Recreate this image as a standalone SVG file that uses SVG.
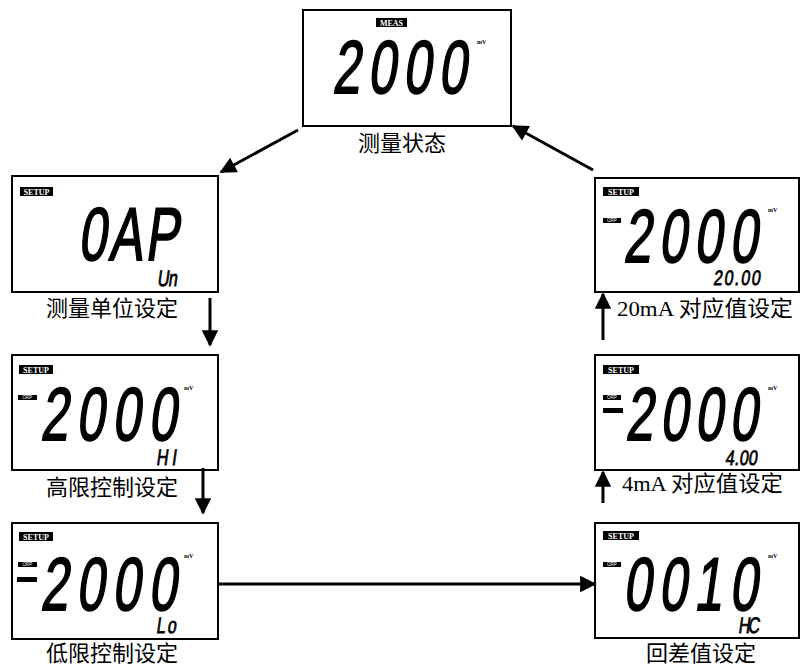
<svg xmlns="http://www.w3.org/2000/svg" width="800" height="666" viewBox="0 0 800 666">
<defs>
<style>
.box{fill:#fff;stroke:#000;stroke-width:2}
.tag{fill:#000}
.tagt{fill:#fff;font-family:"Liberation Serif",serif;font-weight:bold;font-size:8px}
.orpt{fill:#fff;font-family:"Liberation Sans",sans-serif;font-size:4.5px}
.lcd{fill:#000;stroke:#000;stroke-width:1.2;font-family:"Liberation Sans",sans-serif;font-size:50px}
.lcds{fill:#000;stroke:#000;stroke-width:0.6;font-family:"Liberation Sans",sans-serif;font-size:16px}
.mv{fill:#000;font-family:"Liberation Serif",serif;font-size:6px;font-weight:bold}
.lbl{fill:#000;font-family:"Liberation Serif","Noto Sans CJK SC",serif;font-size:22px}
.conn{stroke:#000;stroke-width:3;fill:none}
</style>
<marker id="ah" viewBox="0 0 10 10" refX="9" refY="5" markerWidth="6" markerHeight="5.5" markerUnits="strokeWidth" orient="auto">
<path d="M0,0 L10,5 L0,10 z" fill="#000"/>
</marker>
</defs>
<rect width="800" height="666" fill="#fff"/>

<g id="meas">
<rect class="box" x="303" y="10" width="208" height="116"/>
<rect class="tag" x="376" y="18" width="31" height="9"/>
<text class="tagt" x="391.5" y="25.5" text-anchor="middle" font-size="7">MEAS</text>
<g transform="translate(332,93) skewX(-8) scale(1,1.5)"><text class="lcd" x="0" y="0" textLength="134" lengthAdjust="spacing">2000</text></g>
<text class="mv" x="477" y="44">mV</text>
<text class="lbl" x="402" y="151" text-anchor="middle">测量状态</text>
</g>

<g id="unit">
<rect class="box" x="12" y="176" width="206" height="116"/>
<rect class="tag" x="20" y="187" width="33" height="9"/>
<text class="tagt" x="36.5" y="194.5" text-anchor="middle">SETUP</text>
<g transform="translate(78,260) skewX(-8) scale(1,1.5)"><text class="lcd" x="0" y="0" textLength="100" lengthAdjust="spacing">0AP</text></g>
<g transform="translate(157,286) skewX(-8) scale(1,1.4)"><text class="lcds" x="0" y="0" textLength="20" lengthAdjust="spacing">Un</text></g>
<text class="lbl" x="112" y="316" text-anchor="middle">测量单位设定</text>
</g>

<g id="hi">
<rect class="box" x="12" y="355" width="206" height="115"/>
<rect class="tag" x="19" y="365" width="34" height="9"/>
<text class="tagt" x="36" y="372.5" text-anchor="middle">SETUP</text>
<rect class="tag" x="18" y="395" width="19" height="5"/>
<text class="orpt" x="27.5" y="399" text-anchor="middle">ORP</text>
<g transform="translate(40,440) skewX(-8) scale(1,1.5)"><text class="lcd" x="0" y="0" textLength="136" lengthAdjust="spacing">2000</text></g>
<text class="mv" x="184" y="390">mV</text>
<g transform="translate(156,465) skewX(-8) scale(1,1.4)"><text class="lcds" x="0" y="0" textLength="20" lengthAdjust="spacing">HI</text></g>
<text class="lbl" x="112" y="495" text-anchor="middle">高限控制设定</text>
</g>

<g id="lo">
<rect class="box" x="12" y="523" width="206" height="116"/>
<rect class="tag" x="19" y="532" width="34" height="9"/>
<text class="tagt" x="36" y="539.5" text-anchor="middle">SETUP</text>
<rect class="tag" x="18" y="562" width="19" height="5"/>
<text class="orpt" x="27.5" y="566" text-anchor="middle">ORP</text>
<rect class="tag" x="17" y="577" width="20" height="5"/>
<g transform="translate(40,610) skewX(-8) scale(1,1.5)"><text class="lcd" x="0" y="0" textLength="136" lengthAdjust="spacing">2000</text></g>
<text class="mv" x="184" y="558">mV</text>
<g transform="translate(156,633) skewX(-8) scale(1,1.4)"><text class="lcds" x="0" y="0" textLength="20" lengthAdjust="spacing">Lo</text></g>
<text class="lbl" x="112" y="661" text-anchor="middle">低限控制设定</text>
</g>

<g id="ma20">
<rect class="box" x="595" y="178" width="204" height="114"/>
<rect class="tag" x="603" y="187" width="36" height="9"/>
<text class="tagt" x="621" y="194.5" text-anchor="middle">SETUP</text>
<rect class="tag" x="603" y="218" width="18" height="5"/>
<text class="orpt" x="612" y="222" text-anchor="middle">ORP</text>
<g transform="translate(623,262) skewX(-8) scale(1,1.5)"><text class="lcd" x="0" y="0" textLength="134" lengthAdjust="spacing">2000</text></g>
<text class="mv" x="768" y="212">mV</text>
<g transform="translate(713,285) skewX(-8) scale(1,1.3)"><text class="lcds" x="0" y="0" textLength="47" lengthAdjust="spacing">20.00</text></g>
<text class="lbl" x="617" y="316" textLength="176" lengthAdjust="spacingAndGlyphs">20mA 对应值设定</text>
</g>

<g id="ma4">
<rect class="box" x="595" y="355" width="204" height="115"/>
<rect class="tag" x="603" y="365" width="36" height="9"/>
<text class="tagt" x="621" y="372.5" text-anchor="middle">SETUP</text>
<rect class="tag" x="603" y="395" width="18" height="5"/>
<text class="orpt" x="612" y="399" text-anchor="middle">ORP</text>
<rect class="tag" x="603" y="408" width="20" height="5"/>
<g transform="translate(625,440) skewX(-8) scale(1,1.5)"><text class="lcd" x="0" y="0" textLength="132" lengthAdjust="spacing">2000</text></g>
<text class="mv" x="768" y="390">mV</text>
<g transform="translate(725,465) skewX(-8) scale(1,1.3)"><text class="lcds" x="0" y="0" textLength="32" lengthAdjust="spacing">4.00</text></g>
<text class="lbl" x="622" y="491" textLength="161" lengthAdjust="spacingAndGlyphs">4mA 对应值设定</text>
</g>

<g id="hc">
<rect class="box" x="595" y="523" width="204" height="115"/>
<rect class="tag" x="603" y="531" width="36" height="9"/>
<text class="tagt" x="621" y="538.5" text-anchor="middle">SETUP</text>
<rect class="tag" x="603" y="562" width="18" height="5"/>
<text class="orpt" x="612" y="566" text-anchor="middle">ORP</text>
<g transform="translate(623,610) skewX(-8) scale(1,1.5)"><text class="lcd" x="0" y="0" textLength="134" lengthAdjust="spacing">0010</text></g>
<text class="mv" x="768" y="558">mV</text>
<g transform="translate(738,633) skewX(-8) scale(1,1.4)"><text class="lcds" x="0" y="0" textLength="21" lengthAdjust="spacing">HC</text></g>
<text class="lbl" x="701" y="661" text-anchor="middle">回差值设定</text>
</g>

<g id="connectors">
<line class="conn" x1="298" y1="130" x2="221" y2="172" marker-end="url(#ah)"/>
<line class="conn" x1="593" y1="170" x2="513" y2="126" marker-end="url(#ah)"/>
<line class="conn" x1="210" y1="298" x2="210" y2="345" marker-end="url(#ah)"/>
<line class="conn" x1="203" y1="468" x2="203" y2="513" marker-end="url(#ah)"/>
<line class="conn" x1="218" y1="584" x2="595" y2="584" marker-end="url(#ah)"/>
<line class="conn" x1="603" y1="503" x2="603" y2="472" marker-end="url(#ah)"/>
<line class="conn" x1="603" y1="340" x2="603" y2="294" marker-end="url(#ah)"/>
</g>
</svg>
